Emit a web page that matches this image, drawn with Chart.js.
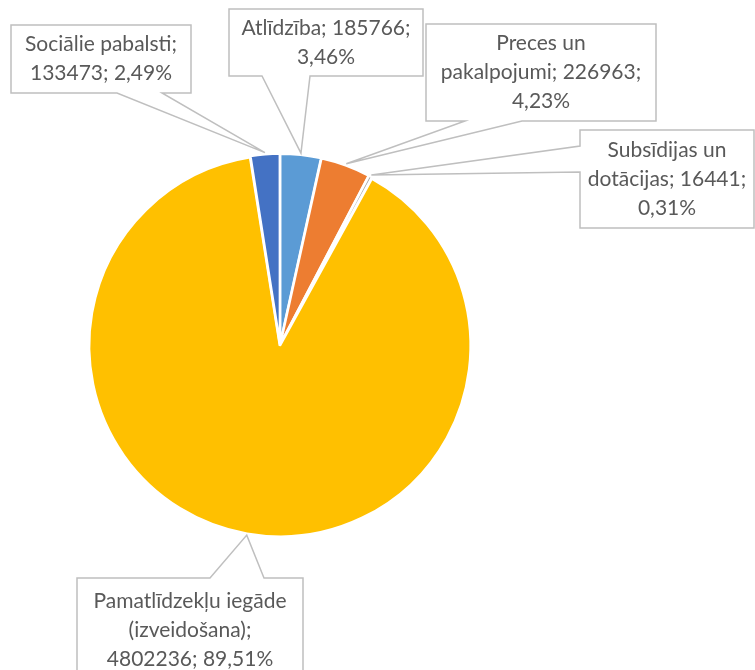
<!DOCTYPE html>
<html>
<head>
<meta charset="utf-8">
<script src="https://cdn.jsdelivr.net/npm/chart.js@4.4.1/dist/chart.umd.min.js"></script>
<style>
  html, body { margin: 0; padding: 0; background: #fff; }
  #wrap { width: 755px; height: 670px; }
</style>
</head>
<body>
<div id="wrap"><canvas id="pieChart" width="755" height="670"></canvas></div>
<script>
// --- data ---
const categories = ['Atlīdzība', 'Preces un pakalpojumi', 'Subsīdijas un dotācijas', 'Pamatlīdzekļu iegāde (izveidošana)', 'Sociālie pabalsti'];
const amounts = [185766, 226963, 16441, 4802236, 133473];
const sliceColors = ['#5B9BD5', '#ED7D31', '#A5A5A5', '#FFC000', '#4472C4'];

// callout boxes (layout only): box rect, side the pointer leaves from, pointer base range, word breaks
const callouts = [
    {x:229, y:9,   w:194, h:67,  side:'bottom', a:262, b:310, breaks:[2]},
    {x:426, y:24,  w:230, h:97,  side:'bottom', a:465, b:522, breaks:[2,4]},
    {x:580, y:130, w:174, h:98,  side:'left',   a:146, b:172, breaks:[2,4]},
    {x:77,  y:578, w:226, h:100, side:'top',    a:210, b:264, breaks:[2,3]},
    {x:11,  y:25,  w:180, h:68,  side:'bottom', a:117, b:162, breaks:[2]}
];

const total = amounts.reduce((s, v) => s + v, 0);
const SLICE_OFFSET = 3;

function labelLines(i, breaks) {
    const pct = (amounts[i] / total * 100).toFixed(2).replace('.', ',');
    const words = `${categories[i]}; ${amounts[i]}; ${pct}%`.split(' ');
    const lines = [];
    let start = 0;
    [...breaks, words.length].forEach(b => {
        lines.push(words.slice(start, b).join(' '));
        start = b;
    });
    return lines;
}

const calloutPlugin = {
    id: 'callouts',
    afterDatasetsDraw(chart) {
        const ctx = chart.ctx;
        const arcs = chart.getDatasetMeta(0).data;
        ctx.save();
        arcs.forEach((el, i) => {
            const c = callouts[i];
            // pointer tip sits on the outer edge of the slice, at its middle angle
            const mid = (el.startAngle + el.endAngle) / 2;
            const r = el.outerRadius + SLICE_OFFSET;
            const tx = el.x + Math.cos(mid) * r;
            const ty = el.y + Math.sin(mid) * r;

            ctx.beginPath();
            if (c.side === 'bottom') {
                ctx.moveTo(c.x, c.y);
                ctx.lineTo(c.x + c.w, c.y);
                ctx.lineTo(c.x + c.w, c.y + c.h);
                ctx.lineTo(c.b, c.y + c.h);
                ctx.lineTo(tx, ty);
                ctx.lineTo(c.a, c.y + c.h);
                ctx.lineTo(c.x, c.y + c.h);
            } else if (c.side === 'left') {
                ctx.moveTo(c.x, c.y);
                ctx.lineTo(c.x + c.w, c.y);
                ctx.lineTo(c.x + c.w, c.y + c.h);
                ctx.lineTo(c.x, c.y + c.h);
                ctx.lineTo(c.x, c.b);
                ctx.lineTo(tx, ty);
                ctx.lineTo(c.x, c.a);
            } else {
                ctx.moveTo(c.x, c.y);
                ctx.lineTo(c.a, c.y);
                ctx.lineTo(tx, ty);
                ctx.lineTo(c.b, c.y);
                ctx.lineTo(c.x + c.w, c.y);
                ctx.lineTo(c.x + c.w, c.y + c.h);
                ctx.lineTo(c.x, c.y + c.h);
            }
            ctx.closePath();
            ctx.fillStyle = '#fff';
            ctx.fill();
            ctx.strokeStyle = '#BFBFBF';
            ctx.lineWidth = 1.5;
            ctx.stroke();

            // text
            const lines = labelLines(i, c.breaks);
            const lh = 29;
            ctx.fillStyle = '#595959';
            ctx.font = '21px Lato';
            ctx.textAlign = 'center';
            ctx.textBaseline = 'middle';
            const cy0 = c.side === 'top'
                ? c.y + 23
                : c.y + c.h / 2 - (lines.length - 1) * lh / 2;
            lines.forEach((ln, k) => ctx.fillText(ln, c.x + c.w / 2, cy0 + k * lh));
        });
        ctx.restore();
    }
};

new Chart(document.getElementById('pieChart'), {
    type: 'pie',
    data: {
        labels: categories,
        datasets: [{
            data: amounts,
            backgroundColor: sliceColors,
            borderColor: '#fff',
            borderWidth: 2.5,
            offset: SLICE_OFFSET
        }]
    },
    options: {
        responsive: false,
        animation: false,
        radius: 190,
        layout: { padding: { left: 0, right: 195, top: 20, bottom: 0 } },
        plugins: { legend: { display: false }, tooltip: { enabled: false } }
    },
    plugins: [calloutPlugin]
});
</script>
</body>
</html>
